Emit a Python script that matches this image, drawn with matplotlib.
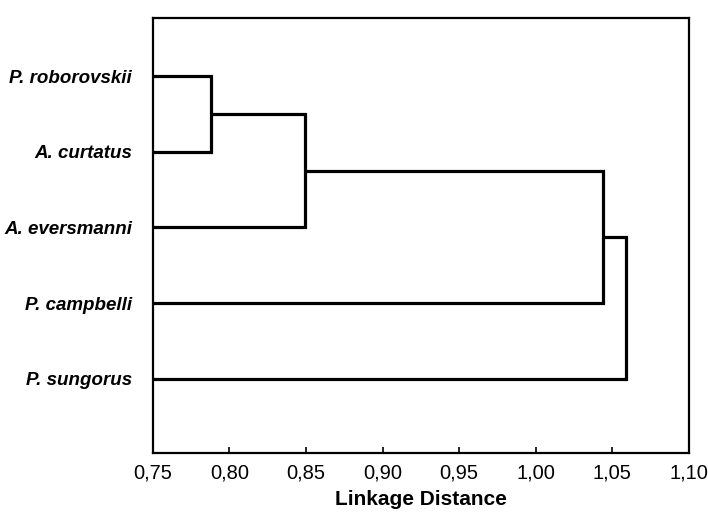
# Dendrogram of linkage distances between hamster species
import matplotlib
matplotlib.use("Agg")
import matplotlib.pyplot as plt

# ── Data ─────────────────────────────────────────────────────
species = ["P. roborovskii", "A. curtatus", "A. eversmanni", "P. campbelli", "P. sungorus"]
# merges: (left cluster, right cluster, linkage distance); clusters 0-4 are leaves,
# new clusters get ids 5, 6, ...
merge_left = [0, 5, 6, 7]
merge_right = [1, 2, 3, 4]
merge_dist = [0.788, 0.849, 1.044, 1.059]
x_ticks = [0.75, 0.80, 0.85, 0.90, 0.95, 1.00, 1.05, 1.10]

# ── Build cluster positions ──────────────────────────────────
pos_y = {i: i + 1 for i in range(len(species))}
pos_x = {i: 0.75 for i in range(len(species))}

fig = plt.figure(figsize=(7.08, 5.2), dpi=100)
ax = fig.add_axes([0.216, 0.128, 0.757, 0.837])

for k, (a, b, d) in enumerate(zip(merge_left, merge_right, merge_dist)):
    ya, yb = pos_y[a], pos_y[b]
    ax.plot([pos_x[a], d, d, pos_x[b]], [ya, ya, yb, yb],
            color="black", linewidth=2.3, solid_joinstyle="miter",
            solid_capstyle="butt", clip_on=False)
    new_id = len(species) + k
    pos_y[new_id] = (ya + yb) / 2
    pos_x[new_id] = d

ax.set_xlim(0.75, 1.10)
ax.set_ylim(5.985, 0.235)
ax.set_xticks(x_ticks)
ax.set_xticklabels([f"{t:.2f}".replace(".", ",") for t in x_ticks],
                   fontsize=14.5, family="Liberation Sans")
ax.tick_params(axis="x", direction="in", length=4, width=1.2, pad=7)

ax.set_yticks(range(1, len(species) + 1))
ax.set_yticklabels(species, fontsize=13.5, family="Liberation Sans",
                   fontstyle="italic", fontweight="bold")
ax.tick_params(axis="y", length=0, pad=15)

for sp in ax.spines.values():
    sp.set_linewidth(1.6)

ax.set_xlabel("Linkage Distance", fontsize=15, fontweight="bold",
              family="Liberation Sans", labelpad=6)

plt.savefig("out.png", dpi=100)
plt.close()
